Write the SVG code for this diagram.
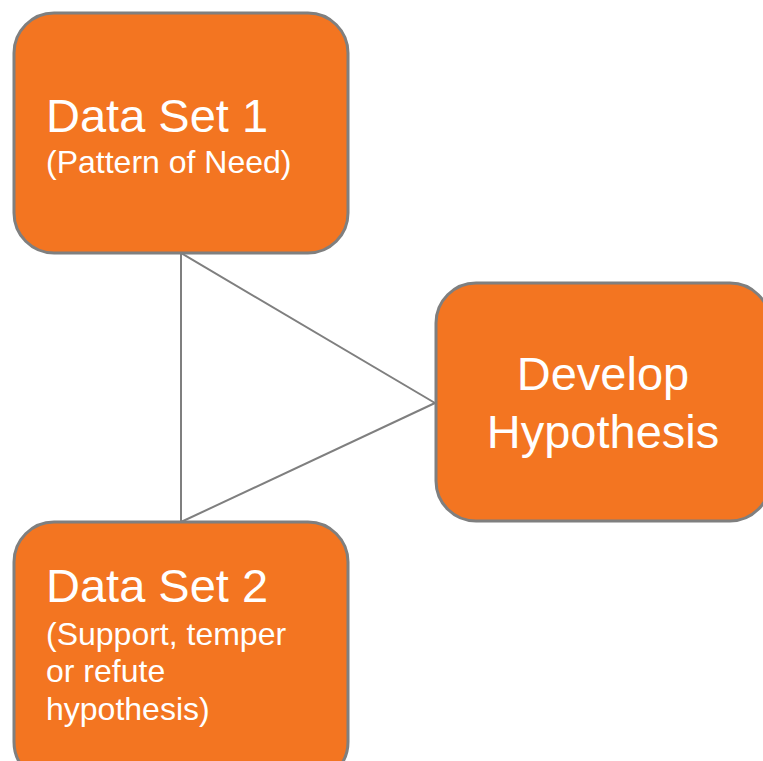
<svg xmlns="http://www.w3.org/2000/svg" width="763" height="761" viewBox="0 0 763 761">
<style>
.box{fill:#F37521;stroke:#7F7F7F;stroke-width:3}
.t{font-family:"Liberation Sans",Arial,sans-serif;fill:#FFFFFF}
.big{font-size:47px}
.sub{font-size:32px}
.conn{stroke:#7F7F7F;stroke-width:2;fill:none}
</style>
<rect width="763" height="761" fill="#FFFFFF"/>
<g id="connectors">
<line class="conn" x1="181" y1="253" x2="181" y2="522"/>
<line class="conn" x1="181" y1="253" x2="435" y2="403"/>
<line class="conn" x1="181" y1="522" x2="435" y2="403"/>
</g>
<g id="node-data-set-1">
<rect class="box" x="14" y="13" width="334" height="240" rx="40" ry="40"/>
<text class="t big" x="46" y="132">Data Set 1</text>
<text class="t sub" x="46" y="173">(Pattern of Need)</text>
</g>
<g id="node-develop-hypothesis">
<rect class="box" x="436" y="283" width="334" height="238" rx="40" ry="40"/>
<text class="t big" x="603" y="390" text-anchor="middle">Develop</text>
<text class="t big" x="603" y="448" text-anchor="middle">Hypothesis</text>
</g>
<g id="node-data-set-2">
<rect class="box" x="14" y="522" width="334" height="260" rx="40" ry="40"/>
<text class="t big" x="46" y="602">Data Set 2</text>
<text class="t sub" x="46" y="645">(Support, temper</text>
<text class="t sub" x="46" y="682">or refute</text>
<text class="t sub" x="46" y="720">hypothesis)</text>
</g>
</svg>
